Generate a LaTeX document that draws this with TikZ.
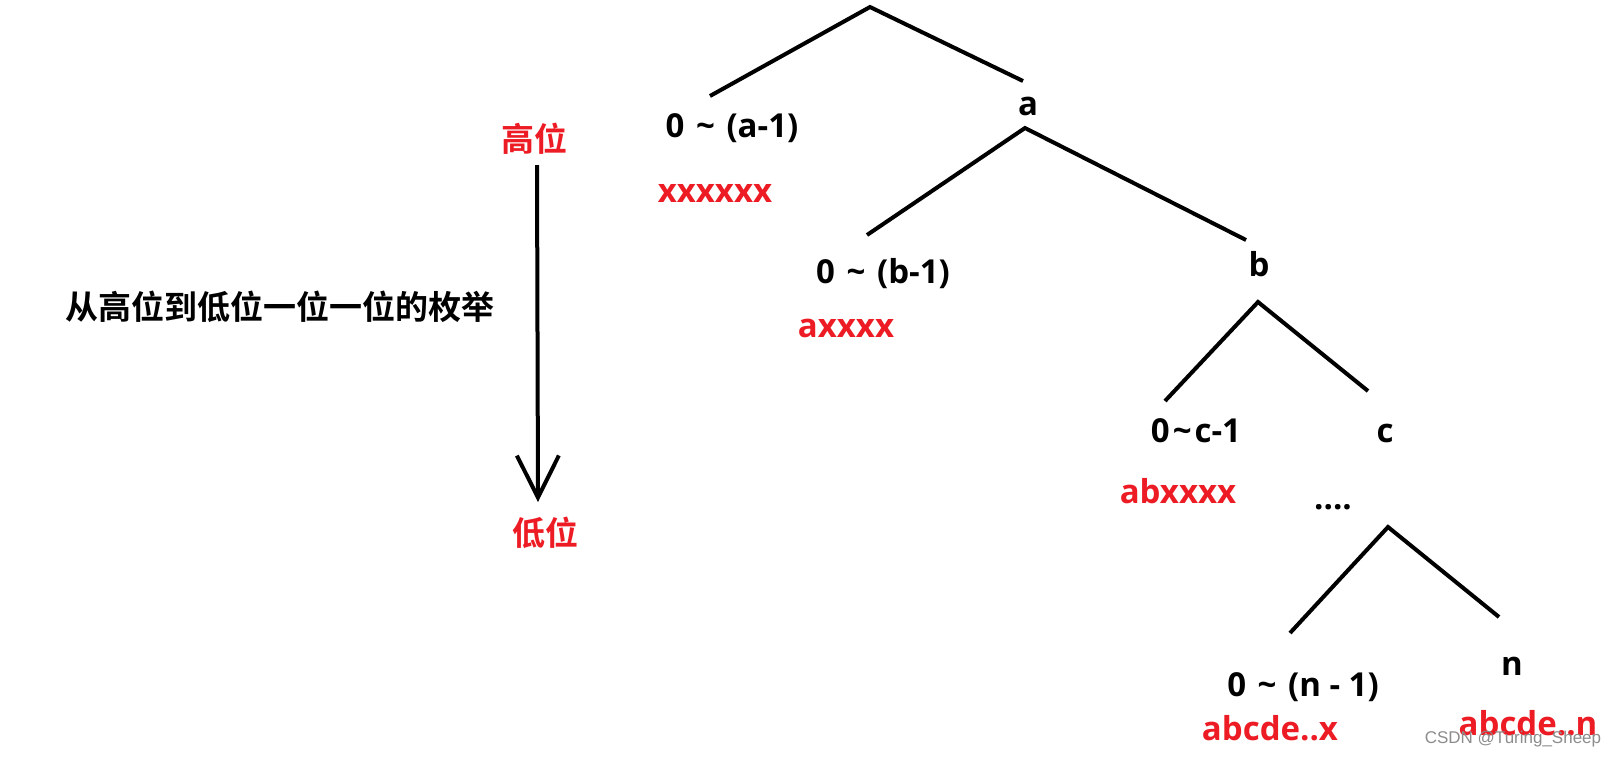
\documentclass[tikz,border=0pt]{standalone}
\usepackage{fontspec}
\setmainfont{Open Sans}
\newfontfamily\cjk{Noto Sans CJK SC}[BoldFont={Noto Sans CJK SC Bold}]
\newfontfamily\wmfont{Liberation Sans}
\usetikzlibrary{arrows.meta}
\definecolor{pred}{RGB}{237,28,36}
\newcommand\mytilde{\hspace{3pt}\char"7E\hspace{3pt}}
\begin{document}
\begin{tikzpicture}[x=1pt,y=-1pt,
  edge/.style={line width=4pt},
  lab/.style={anchor=base,inner sep=0pt,font=\fontsize{33}{36}\selectfont\bfseries},
  redlab/.style={lab,text=pred},
  cjklab/.style={inner sep=0pt,font=\fontsize{33}{36}\selectfont\cjk\bfseries},
]
\useasboundingbox (0,0) rectangle (1615,756);
% left side
\node[cjklab,text=pred] (hi) at (534,139) {高位};
\node[cjklab,text=pred] (lo) at (545,533) {低位};
\node[cjklab] (desc) at (280,307) {从高位到低位一位一位的枚举};
\coordinate (arrtop) at (537,165);
\coordinate (arrtip) at (538,502);
\draw[line width=4pt,-{Straight Barb[length=42pt,width=42pt,line width=4pt]}] (arrtop) -- (arrtip);
% tree level 1
\coordinate (ap1) at (870,7);
\coordinate (l1) at (710,96);
\coordinate (r1) at (1023,81);
\draw[edge] (l1) -- (ap1) -- (r1);
\node[lab] (na1) at (732,137) {0 \mytilde\ (a-1)};
\node[lab] (na) at (1028,115) {a};
\node[redlab] (xa) at (715,202) {xxxxxx};
% level 2
\coordinate (ap2) at (1025,128);
\coordinate (l2) at (867,235);
\coordinate (r2) at (1246,240);
\draw[edge] (l2) -- (ap2) -- (r2);
\node[lab] (nb1) at (883,283) {0 \mytilde\ (b-1)};
\node[lab] (nb) at (1259,276) {b};
\node[redlab] (xb) at (846,337) {axxxx};
% level 3
\coordinate (ap3) at (1258,302);
\coordinate (l3) at (1165,401);
\coordinate (r3) at (1368,391);
\draw[edge] (l3) -- (ap3) -- (r3);
\node[lab] (nc1) at (1196,442) {0\mytilde c-1};
\node[lab] (nc) at (1385,442) {c};
\node[redlab] (xc) at (1178,503) {abxxxx};
\node[lab] (dots) at (1333,509) {....};
% level 4
\coordinate (ap4) at (1388,527);
\coordinate (l4) at (1290,633);
\coordinate (r4) at (1499,617);
\draw[edge] (l4) -- (ap4) -- (r4);
\node[lab] (nn1) at (1303,696) {0 \mytilde\ (n - 1)};
\node[lab] (nn) at (1512,675) {n};
\node[redlab] (xn1) at (1270,740) {abcde..x};
\node[redlab] (xn) at (1528,735) {abcde..n};
% watermark
\node[anchor=base,inner sep=0pt,text=black!45,font=\fontsize{17}{19}\selectfont\wmfont] (wm) at (1513,743) {CSDN @Turing\_Sheep};
\end{tikzpicture}
\end{document}
